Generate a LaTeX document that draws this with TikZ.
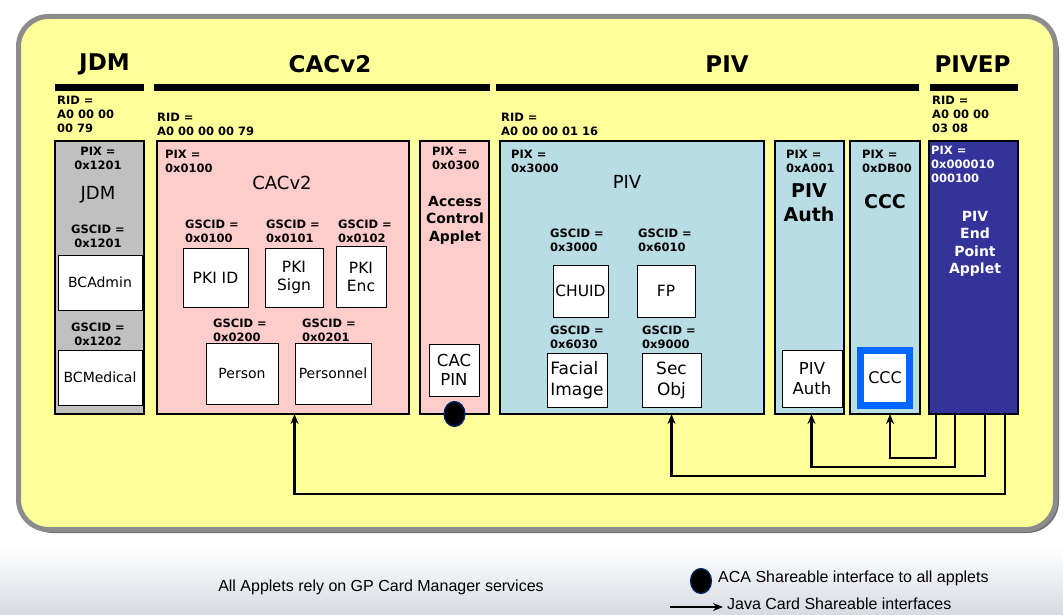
\documentclass[tikz,border=0pt]{standalone}
\usepackage{fontspec}
\setmainfont{DejaVu Sans}
\newfontfamily\legendfont{Liberation Sans}
\usetikzlibrary{shapes.geometric, arrows.meta}
\tikzset{share/.style = {line width=2.6pt, -{Stealth[length=10pt,width=8pt]}}}
\definecolor{cardyellow}{RGB}{255,255,153}
\definecolor{framegray}{RGB}{140,140,140}
\definecolor{shadowgray}{RGB}{110,110,110}
\definecolor{jdmgray}{RGB}{192,192,192}
\definecolor{cacpink}{RGB}{255,204,204}
\definecolor{pivblue}{RGB}{185,221,228}
\definecolor{pvepblue}{RGB}{51,51,153}
\definecolor{cccblue}{RGB}{0,102,255}
\definecolor{dotedge}{RGB}{0,40,110}
\definecolor{footgray}{RGB}{214,218,226}

\begin{document}
\begin{tikzpicture}[x=1pt, y=-1pt,
  col/.style = {draw, line width=1.2pt, anchor=north west, inner sep=0, outer sep=0},
  applet/.style = {draw, line width=1pt, fill=white, inner sep=0, align=center, font=\fontsize{15.5}{18}\selectfont},
  tag/.style = {inner sep=0, align=left, anchor=west, font=\fontsize{11.5}{14}\selectfont\bfseries},
  pkghead/.style = {inner sep=0, font=\fontsize{23}{26}\selectfont\bfseries},
  appname/.style = {inner sep=0, font=\fontsize{18}{20}\selectfont},
  coltitle/.style = {inner sep=0, align=center, font=\fontsize{14}{17.5}\selectfont\bfseries},
  bigtitle/.style = {inner sep=0, align=center, font=\fontsize{19}{24}\selectfont\bfseries},
  acadot/.style = {ellipse, fill=black, draw=dotedge, line width=1.2pt, minimum width=21, minimum height=25, inner sep=0},
  legend/.style = {inner sep=4pt, font=\legendfont\fontsize{16}{18}\selectfont}]
\useasboundingbox (0,0) rectangle (1063,615);
\fill[white] (0,0) rectangle (1063,615);
\shade[top color=white, bottom color=footgray] (0,548) rectangle (1063,615);

% card frame
\fill[shadowgray, rounded corners=32] (21,20) rectangle (1059,533);
\draw[framegray, line width=5pt, fill=cardyellow, rounded corners=30] (18.5,16.5) rectangle (1055.5,529.5);

% package headings
\node[pkghead] (hjdm) at (104.5,64) {JDM};
\node[pkghead] (hcac) at (330,64) {CACv2};
\node[pkghead] (hpiv) at (727,64) {PIV};
\node[pkghead] (hpvep) at (972.5,64) {PIVEP};
\draw[line width=7pt] (55,87.5) -- (144,87.5);
\draw[line width=7pt] (154,87.5) -- (490,87.5);
\draw[line width=7pt] (496,87.5) -- (919,87.5);
\draw[line width=7pt] (930,87.5) -- (1018,87.5);

\node[tag] (jdmrid) at (57,114) {RID =\\A0 00 00\\00 79};
\node[tag] (cacrid) at (157,124.5) {RID =\\A0 00 00 00 79};
\node[tag] (pivrid) at (501,124.5) {RID =\\A0 00 00 01 16};
\node[tag] (pveprid) at (932,114) {RID =\\A0 00 00\\03 08};

% applet columns
\node[col, fill=jdmgray, minimum width=89, minimum height=273] (jdm) at (55,141) {};
\node[col, fill=cacpink, minimum width=252, minimum height=273] (cac) at (157,141) {};
\node[col, fill=cacpink, minimum width=69, minimum height=273] (aca) at (420,141) {};
\node[col, fill=pivblue, minimum width=264, minimum height=273] (piv) at (500,141) {};
\node[col, fill=pivblue, minimum width=69, minimum height=273] (pivauth) at (775,141) {};
\node[col, fill=pivblue, minimum width=70, minimum height=273] (ccc) at (850,141) {};
\node[col, fill=pvepblue, minimum width=89, minimum height=273] (pvep) at (929,141) {};

% JDM
\node[tag, anchor=center, align=center] (jdmpix) at (98,158) {PIX =\\0x1201};
\node[appname] (jdmname) at (98,195) {JDM};
\node[tag, anchor=center, align=center] (gsadmin) at (98,236.5) {GSCID =\\0x1201};
\node[applet, minimum width=84, minimum height=55, font=\fontsize{14}{16}\selectfont] (bcadmin) at (100,282.5) {BCAdmin};
\node[tag, anchor=center, align=center] (gsmedical) at (98,334) {GSCID =\\0x1202};
\node[applet, minimum width=84, minimum height=55, font=\fontsize{14}{16}\selectfont] (bcmedical) at (100,377.5) {BCMedical};

% CACv2
\node[tag] (cacpix) at (165,161) {PIX =\\0x0100};
\node[appname] (cacname) at (282,183) {CACv2};
\node[tag] (gspkiid) at (185,231) {GSCID =\\0x0100};
\node[tag] (gspkisign) at (266,231) {GSCID =\\0x0101};
\node[tag] (gspkienc) at (338,231) {GSCID =\\0x0102};
\node[applet, minimum width=65, minimum height=59] (pkiid) at (215.5,277.5) {PKI ID};
\node[applet, minimum width=58, minimum height=59] (pkisign) at (294,277.5) {PKI\\Sign};
\node[applet, minimum width=50, minimum height=61] (pkienc) at (361,276.5) {PKI\\Enc};
\node[tag] (gsperson) at (213,330) {GSCID =\\0x0200};
\node[tag] (gspersonnel) at (302,330) {GSCID =\\0x0201};
\node[applet, minimum width=72, minimum height=61, font=\fontsize{14}{16}\selectfont] (person) at (242,373.5) {Person};
\node[applet, minimum width=76, minimum height=61, font=\fontsize{14}{16}\selectfont] (personnel) at (333,373.5) {Personnel};

% Access Control Applet
\node[tag] (acapix) at (432,158.5) {PIX =\\0x0300};
\node[coltitle] (acaname) at (455,220) {Access\\Control\\Applet};
\node[applet, minimum width=50, minimum height=52, font=\fontsize{16.5}{19}\selectfont] (cacpin) at (454,370) {CAC\\PIN};
\node[acadot] (acaport) at (aca.south) {};

% PIV
\node[tag] (pivpix) at (511,161) {PIX =\\0x3000};
\node[appname] (pivname) at (627,182) {PIV};
\node[tag] (gschuid) at (550,240.5) {GSCID =\\0x3000};
\node[tag] (gsfp) at (638,240.5) {GSCID =\\0x6010};
\node[applet, minimum width=55, minimum height=52] (chuid) at (580.5,291) {CHUID};
\node[applet, minimum width=58, minimum height=52] (fp) at (666,291) {FP};
\node[tag] (gsfacial) at (550,337) {GSCID =\\0x6030};
\node[tag] (gssecobj) at (642,337) {GSCID =\\0x9000};
\node[applet, minimum width=60, minimum height=54, align=left, font=\fontsize{17}{21}\selectfont] (facial) at (577,380) {Facial\\Image};
\node[applet, minimum width=59, minimum height=54, font=\fontsize{17}{21}\selectfont] (secobj) at (671.5,380) {Sec\\Obj};

% PIV Auth
\node[tag] (authpix) at (786,161) {PIX =\\0xA001};
\node[bigtitle] (authname) at (809,202.5) {PIV\\Auth};
\node[applet, minimum width=60, minimum height=57, font=\fontsize{16.5}{20}\selectfont] (authkey) at (812,378.5) {PIV\\Auth};

% CCC
\node[tag] (cccpix) at (862,161) {PIX =\\0xDB00};
\node[bigtitle] (cccname) at (885,202) {CCC};
\node[applet, draw=cccblue, line width=7pt, minimum width=49, minimum height=55, font=\fontsize{16}{18}\selectfont] (cccfile) at (885,378) {CCC};

% PIV End Point
\node[tag, text=white] (pveppix) at (931,164) {PIX =\\0x000010\\000100};
\node[coltitle, text=white] (pvepname) at (975,244) {PIV\\End\\Point\\Applet};

% shareable interfaces
\draw[share] ([xshift=7pt]pvep.south west) -- ++(0,44) -| ([xshift=5pt]ccc.south);
\draw[share] ([xshift=26pt]pvep.south west) -- ++(0,53) -| ([xshift=2pt]pivauth.south);
\draw[share] ([xshift=56pt]pvep.south west) -- ++(0,62) -| (secobj.south |- piv.south);
\draw[share] ([xshift=76pt]pvep.south west) -- ++(0,80) -| (personnel.south west |- cac.south);

% legend
\node[legend] (legall) at (381,587) {All Applets rely on GP Card Manager services};
\node[acadot] (legdot) at (701,581) {};
\node[legend, anchor=west] (legaca) at (714,578) {ACA Shareable interface to all applets};
\node[legend, anchor=west] (legjava) at (723,604) {Java Card Shareable interfaces};
\coordinate (legtail) at (670,607);
\draw[share, line width=2pt] (legtail) -- (legtail -| legjava.west);
\end{tikzpicture}
\end{document}
